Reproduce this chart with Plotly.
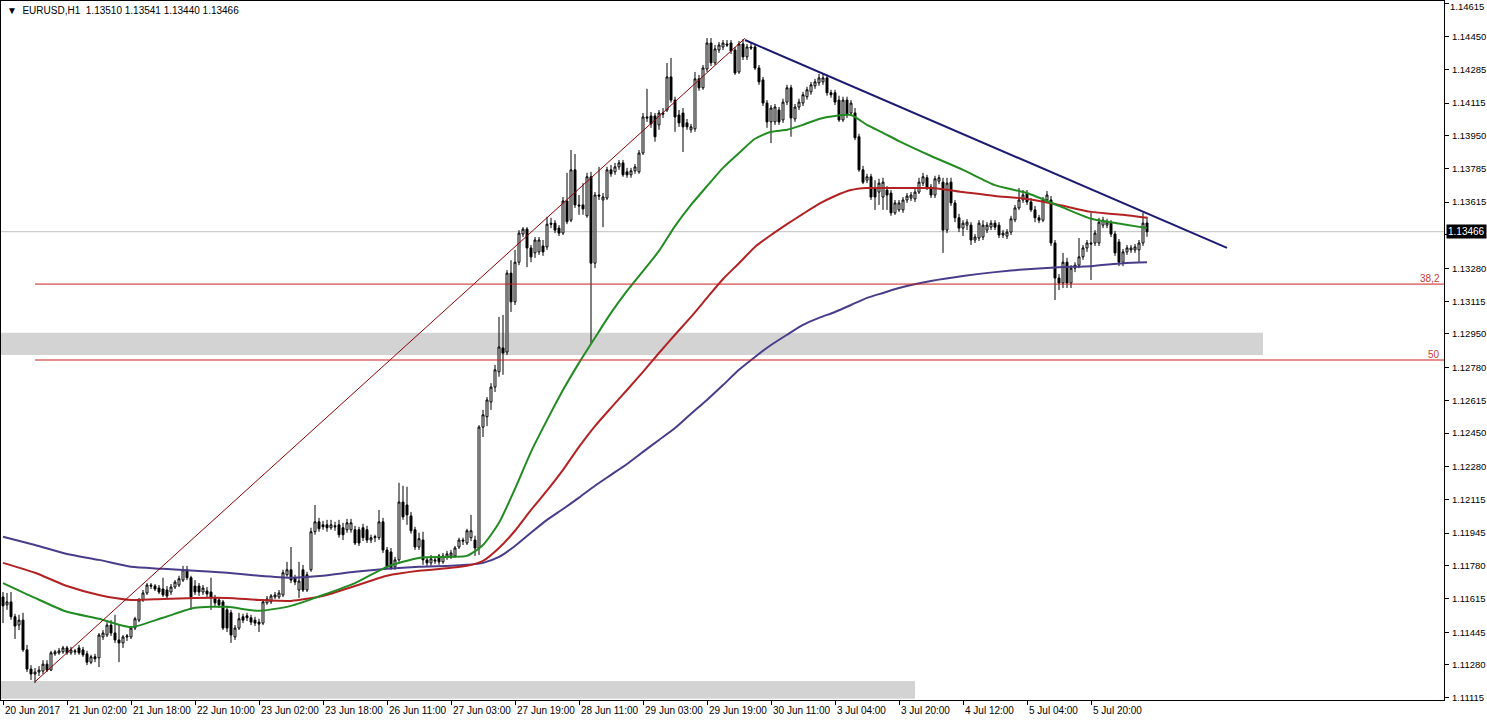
import plotly.graph_objects as go

# ---------------- data (EURUSD, H1) ----------------
opens = [
1.11623,1.11583,1.11598,1.11523,1.11481,1.11506,1.11356,1.11259,1.11234,1.11244,
1.11249,1.11284,1.11254,1.11336,1.11341,1.11346,1.11366,1.11341,1.11351,1.11366,
1.11356,1.11336,1.11294,1.11321,1.11316,1.11421,1.11431,1.11481,1.11441,1.11406,
1.11391,1.11421,1.11421,1.11466,1.11506,1.11608,1.11643,1.11683,1.11678,1.11668,
1.11663,1.11658,1.11648,1.11673,1.11683,1.11708,1.11760,1.11720,1.11678,1.11678,
1.11648,1.11653,1.11648,1.11618,1.11608,1.11598,1.11558,1.11543,1.11421,1.11466,
1.11523,1.11528,1.11518,1.11506,1.11496,1.11491,1.11593,1.11598,1.11623,1.11623,
1.11633,1.11735,1.11760,1.11720,1.11658,1.11760,1.11658,1.11760,1.11952,1.12002,
1.11987,1.11987,1.11972,1.11982,1.11987,1.11972,1.11962,1.11962,1.11962,1.11962,
1.11972,1.11962,1.11910,1.11922,1.11922,1.12002,1.11860,1.11850,1.11775,1.11810,
1.12102,1.12087,1.12032,1.11962,1.11875,1.11910,1.11810,1.11795,1.11810,1.11830,
1.11800,1.11825,1.11830,1.11830,1.11875,1.11910,1.11895,1.11922,1.11910,1.11870,
1.12480,1.12532,1.12607,1.12682,1.12759,1.12879,1.12859,1.13257,1.13112,1.13312,
1.13454,1.13479,1.13384,1.13359,1.13364,1.13394,1.13389,1.13509,1.13509,1.13484,
1.13459,1.13621,1.13524,1.13778,1.13601,1.13601,1.13546,1.13743,1.13307,1.13651,
1.13626,1.13636,1.13778,1.13768,1.13793,1.13813,1.13768,1.13753,1.13773,1.13768,
1.13863,1.14045,1.14050,1.14050,1.14005,1.14065,1.14080,1.14247,1.14130,1.14055,
1.14065,1.14015,1.13980,1.13985,1.14237,1.14192,1.14287,1.14418,1.14318,1.14383,
1.14398,1.14413,1.14418,1.14383,1.14272,1.14413,1.14348,1.14398,1.14398,1.14292,
1.14232,1.14115,1.14020,1.14020,1.14080,1.14030,1.14120,1.14192,1.14035,1.14095,
1.14115,1.14147,1.14172,1.14202,1.14217,1.14222,1.14242,1.14167,1.14167,1.14130,
1.14030,1.14130,1.14065,1.14065,1.13945,1.13778,1.13726,1.13743,1.13686,1.13666,
1.13641,1.13676,1.13661,1.13561,1.13576,1.13576,1.13626,1.13636,1.13631,1.13666,
1.13711,1.13738,1.13691,1.13651,1.13721,1.13716,1.13474,1.13716,1.13611,1.13536,
1.13484,1.13499,1.13499,1.13424,1.13434,1.13439,1.13474,1.13489,1.13509,1.13499,
1.13449,1.13444,1.13464,1.13526,1.13586,1.13626,1.13661,1.13616,1.13576,1.13536,
1.13524,1.13626,1.13626,1.13409,1.13232,1.13207,1.13312,1.13207,1.13282,1.13297,
1.13339,1.13384,1.13409,1.13409,1.13409,1.13499,1.13499,1.13509,1.13454,1.13414,
1.13312,1.13364,1.13374,1.13374,1.13374,1.13409,1.13510]

highs = [
1.11648,1.11643,1.11648,1.11538,1.11533,1.11543,1.11381,1.11279,1.11264,1.11274,
1.11304,1.11304,1.11351,1.11356,1.11366,1.11376,1.11376,1.11371,1.11361,1.11381,
1.11371,1.11351,1.11331,1.11336,1.11441,1.11456,1.11496,1.11506,1.11533,1.11481,
1.11431,1.11436,1.11476,1.11523,1.11618,1.11658,1.11693,1.11693,1.11688,1.11683,
1.11720,1.11678,1.11688,1.11708,1.11730,1.11780,1.11780,1.11730,1.11708,1.11693,
1.11683,1.11673,1.11720,1.11633,1.11623,1.11608,1.11578,1.11558,1.11481,1.11543,
1.11538,1.11543,1.11533,1.11523,1.11513,1.11608,1.11628,1.11638,1.11648,1.11658,
1.11760,1.11800,1.11875,1.11735,1.11800,1.11785,1.11750,1.11972,1.12087,1.12022,
1.12007,1.12012,1.12012,1.12002,1.12012,1.11997,1.12017,1.12017,1.11982,1.11977,
1.11992,1.11982,1.11937,1.11937,1.12062,1.12022,1.11875,1.11870,1.11825,1.12199,
1.12184,1.12179,1.12052,1.11977,1.11947,1.11952,1.11825,1.11835,1.11830,1.11840,
1.11845,1.11855,1.11860,1.11880,1.11922,1.11922,1.11967,1.12037,1.11932,1.12490,
1.12567,1.12632,1.12702,1.12794,1.13036,1.13046,1.13272,1.13322,1.13374,1.13474,
1.13489,1.13489,1.13399,1.13439,1.13439,1.13424,1.13541,1.13536,1.13524,1.13499,
1.13641,1.13763,1.13878,1.13858,1.13651,1.13711,1.13763,1.13768,1.13666,1.13793,
1.13661,1.13793,1.13803,1.13813,1.13828,1.13828,1.13788,1.13788,1.13808,1.13878,
1.14065,1.14187,1.14070,1.14065,1.14080,1.14090,1.14317,1.14343,1.14147,1.14080,
1.14090,1.14035,1.14010,1.14272,1.14257,1.14307,1.14443,1.14443,1.14408,1.14423,
1.14433,1.14433,1.14433,1.14398,1.14428,1.14438,1.14413,1.14418,1.14413,1.14307,
1.14247,1.14130,1.14105,1.14110,1.14095,1.14137,1.14207,1.14207,1.14110,1.14137,
1.14172,1.14197,1.14222,1.14237,1.14262,1.14262,1.14257,1.14182,1.14182,1.14152,
1.14147,1.14147,1.14130,1.14090,1.13960,1.13798,1.13758,1.13758,1.13726,1.13733,
1.13738,1.13696,1.13676,1.13626,1.13626,1.13641,1.13661,1.13666,1.13681,1.13738,
1.13763,1.13753,1.13706,1.13748,1.13753,1.13738,1.13738,1.13738,1.13626,1.13556,
1.13524,1.13529,1.13514,1.13454,1.13524,1.13524,1.13514,1.13524,1.13524,1.13514,
1.13474,1.13479,1.13546,1.13601,1.13686,1.13676,1.13676,1.13636,1.13596,1.13551,
1.13641,1.13671,1.13646,1.13424,1.13252,1.13359,1.13334,1.13297,1.13312,1.13434,
1.13399,1.13424,1.13561,1.13474,1.13536,1.13541,1.13531,1.13524,1.13469,1.13429,
1.13379,1.13399,1.13399,1.13404,1.13424,1.13561,1.13541]

lows = [
1.11491,1.11558,1.11508,1.11411,1.11456,1.11346,1.11244,1.11204,1.11189,1.11224,
1.11234,1.11244,1.11249,1.11326,1.11331,1.11336,1.11331,1.11331,1.11331,1.11331,
1.11321,1.11279,1.11284,1.11294,1.11269,1.11406,1.11421,1.11426,1.11391,1.11294,
1.11366,1.11401,1.11411,1.11456,1.11496,1.11598,1.11633,1.11663,1.11653,1.11638,
1.11623,1.11613,1.11633,1.11663,1.11673,1.11698,1.11708,1.11558,1.11633,1.11628,
1.11633,1.11623,1.11558,1.11578,1.11568,1.11456,1.11446,1.11391,1.11406,1.11456,
1.11491,1.11501,1.11481,1.11476,1.11446,1.11481,1.11583,1.11588,1.11613,1.11613,
1.11623,1.11725,1.11693,1.11683,1.11618,1.11648,1.11648,1.11750,1.11937,1.11952,
1.11962,1.11952,1.11962,1.11957,1.11922,1.11910,1.11947,1.11947,1.11885,1.11880,
1.11905,1.11895,1.11895,1.11900,1.11910,1.11845,1.11765,1.11760,1.11760,1.11800,
1.12012,1.11987,1.11942,1.11860,1.11860,1.11785,1.11780,1.11780,1.11790,1.11785,
1.11790,1.11810,1.11815,1.11820,1.11865,1.11885,1.11885,1.11905,1.11830,1.11835,
1.12430,1.12485,1.12567,1.12657,1.12734,1.12744,1.12844,1.13061,1.13096,1.13297,
1.13439,1.13287,1.13312,1.13334,1.13349,1.13344,1.13374,1.13484,1.13459,1.13444,
1.13449,1.13504,1.13514,1.13586,1.13551,1.13551,1.13536,1.12904,1.13282,1.13626,
1.13489,1.13626,1.13743,1.13753,1.13778,1.13743,1.13738,1.13738,1.13758,1.13758,
1.13853,1.14020,1.13990,1.13920,1.13980,1.14040,1.14070,1.14117,1.13970,1.13995,
1.13868,1.13980,1.13965,1.13970,1.14177,1.14182,1.14272,1.14302,1.14307,1.14368,
1.14383,1.14398,1.14363,1.14257,1.14262,1.14332,1.14332,1.14383,1.14282,1.14207,
1.14100,1.13990,1.13913,1.14005,1.14005,1.14015,1.14105,1.13945,1.14020,1.14080,
1.14100,1.14132,1.14157,1.14187,1.14202,1.14207,1.14152,1.14142,1.14105,1.14020,
1.14020,1.14040,1.14050,1.13928,1.13768,1.13706,1.13711,1.13626,1.13576,1.13601,
1.13576,1.13576,1.13546,1.13551,1.13566,1.13561,1.13611,1.13621,1.13616,1.13656,
1.13696,1.13676,1.13636,1.13636,1.13706,1.13359,1.13459,1.13596,1.13514,1.13464,
1.13444,1.13474,1.13399,1.13409,1.13419,1.13424,1.13459,1.13474,1.13474,1.13434,
1.13434,1.13429,1.13449,1.13514,1.13576,1.13611,1.13601,1.13566,1.13514,1.13509,
1.13514,1.13611,1.13394,1.13121,1.13172,1.13182,1.13182,1.13182,1.13262,1.13282,
1.13324,1.13364,1.13222,1.13394,1.13394,1.13484,1.13484,1.13439,1.13344,1.13292,
1.13292,1.13349,1.13359,1.13359,1.13312,1.13394,1.13440]

closes = [
1.11578,1.11598,1.11523,1.11476,1.11506,1.11356,1.11259,1.11234,1.11244,1.11254,
1.11284,1.11254,1.11341,1.11346,1.11351,1.11366,1.11341,1.11356,1.11346,1.11341,
1.11331,1.11294,1.11321,1.11311,1.11431,1.11441,1.11481,1.11441,1.11406,1.11391,
1.11421,1.11426,1.11466,1.11513,1.11608,1.11643,1.11683,1.11678,1.11663,1.11648,
1.11633,1.11628,1.11673,1.11698,1.11715,1.11760,1.11720,1.11623,1.11648,1.11648,
1.11668,1.11638,1.11618,1.11593,1.11583,1.11466,1.11466,1.11431,1.11466,1.11513,
1.11506,1.11518,1.11496,1.11491,1.11486,1.11598,1.11613,1.11628,1.11633,1.11643,
1.11745,1.11760,1.11708,1.11698,1.11703,1.11658,1.11735,1.11952,1.12002,1.11967,
1.11977,1.11972,1.11987,1.11977,1.11937,1.11937,1.11997,1.11997,1.11895,1.11895,
1.11922,1.11910,1.11922,1.11927,1.12002,1.11860,1.11775,1.11770,1.11810,1.12102,
1.12027,1.12037,1.11957,1.11875,1.11917,1.11810,1.11795,1.11815,1.11805,1.11800,
1.11830,1.11840,1.11845,1.11870,1.11910,1.11905,1.11957,1.11957,1.11870,1.12480,
1.12542,1.12617,1.12682,1.12769,1.12884,1.12854,1.13257,1.13112,1.13312,1.13459,
1.13479,1.13384,1.13339,1.13424,1.13424,1.13364,1.13504,1.13504,1.13474,1.13459,
1.13621,1.13516,1.13778,1.13601,1.13596,1.13581,1.13743,1.13307,1.13651,1.13646,
1.13641,1.13778,1.13758,1.13793,1.13813,1.13753,1.13753,1.13773,1.13793,1.13863,
1.14045,1.14040,1.14010,1.13945,1.14065,1.14060,1.14247,1.14130,1.14045,1.14015,
1.13995,1.13995,1.13995,1.14237,1.14192,1.14292,1.14418,1.14318,1.14388,1.14408,
1.14418,1.14408,1.14378,1.14267,1.14413,1.14348,1.14398,1.14393,1.14292,1.14222,
1.14115,1.14020,1.14090,1.14095,1.14020,1.14120,1.14192,1.14040,1.14095,1.14120,
1.14157,1.14182,1.14207,1.14222,1.14242,1.14242,1.14167,1.14157,1.14120,1.14030,
1.14130,1.14055,1.14115,1.13940,1.13778,1.13716,1.13743,1.13641,1.13641,1.13711,
1.13716,1.13651,1.13561,1.13611,1.13611,1.13626,1.13646,1.13651,1.13666,1.13716,
1.13743,1.13691,1.13651,1.13733,1.13738,1.13474,1.13711,1.13611,1.13536,1.13484,
1.13509,1.13514,1.13424,1.13439,1.13509,1.13499,1.13499,1.13509,1.13489,1.13449,
1.13459,1.13464,1.13531,1.13586,1.13626,1.13651,1.13616,1.13576,1.13536,1.13524,
1.13626,1.13651,1.13409,1.13232,1.13207,1.13312,1.13207,1.13282,1.13297,1.13339,
1.13384,1.13409,1.13404,1.13459,1.13514,1.13524,1.13514,1.13454,1.13359,1.13312,
1.13364,1.13384,1.13384,1.13389,1.13409,1.13509,1.13466]

# moving averages (bar index -> value)
ma_idx = [0,8,16,24,32,40,48,56,64,72,80,88,96,104,
          112,116,120,124,128,132,136,140,144,148,152,156,160,164,168,172,176,180,
          184,188,192,196,200,204,208,212,216,220,
          224,232,240,248,256,264,272,280,286]
ma_green = [1.11693,1.11618,1.11548,1.11513,1.11471,1.11518,1.11568,1.11573,1.11553,1.11578,
            1.11633,1.11693,1.11775,1.11820,
            1.11825,1.11830,1.11885,1.11997,1.12169,1.12355,1.12515,1.12667,1.12804,1.12931,
            1.13056,1.13167,1.13267,1.13369,1.13494,1.13601,1.13696,1.13788,1.13863,1.13935,
            1.13970,1.13980,1.14005,1.14035,1.14050,1.14055,1.14005,1.13965,
            1.13923,1.13848,1.13778,1.13701,1.13661,1.13596,1.13531,1.13504,1.13484]
ma_red = [1.11795,1.11745,1.11678,1.11633,1.11608,1.11613,1.11618,1.11618,1.11608,1.11603,
          1.11628,1.11678,1.11730,1.11755,
          1.11770,1.11780,1.11805,1.11870,1.11957,1.12062,1.12159,1.12264,1.12380,1.12485,
          1.12577,1.12667,1.12759,1.12854,1.12946,1.13036,1.13132,1.13227,1.13307,1.13389,
          1.13449,1.13504,1.13556,1.13606,1.13646,1.13676,1.13686,1.13686,
          1.13686,1.13686,1.13666,1.13646,1.13631,1.13601,1.13566,1.13551,1.13536]
ma_blue = [1.11927,1.11885,1.11840,1.11810,1.11775,1.11765,1.11755,1.11745,1.11730,1.11720,
           1.11730,1.11750,1.11765,1.11775,
           1.11780,1.11785,1.11795,1.11825,1.11880,1.11947,1.12012,1.12067,1.12124,1.12184,
           1.12239,1.12294,1.12355,1.12415,1.12475,1.12547,1.12617,1.12692,1.12769,1.12834,
           1.12894,1.12946,1.12996,1.13031,1.13061,1.13096,1.13132,1.13157,
           1.13182,1.13217,1.13242,1.13262,1.13277,1.13287,1.13292,1.13307,1.13312]

# time axis labels (bar index -> text)
time_idx = [0,16,32,48,64,80,96,112,128,144,160,176,192,208,224,240,256,272]
time_text = ["20 Jun 2017","21 Jun 02:00","21 Jun 18:00","22 Jun 10:00","23 Jun 02:00",
             "23 Jun 18:00","26 Jun 11:00","27 Jun 03:00","27 Jun 19:00","28 Jun 11:00",
             "29 Jun 03:00","29 Jun 19:00","30 Jun 11:00","3 Jul 04:00","3 Jul 20:00",
             "4 Jul 12:00","5 Jul 04:00","5 Jul 20:00"]

# price axis ticks
price_ticks = [1.14615,1.14450,1.14285,1.14115,1.13950,1.13785,1.13615,1.13450,1.13280,
               1.13115,1.12950,1.12780,1.12615,1.12450,1.12280,1.12115,1.11945,1.11780,
               1.11615,1.11445,1.11280,1.11115]

# drawing objects
fib_idx = [8, 185.5]                 # swing low bar, swing high bar
fib_price = [1.11195, 1.14442]       # swing low, swing high
fib_levels = [38.2, 50.0]
fib_labels = ["38,2", "50"]
trend_idx = [185.5, 306]
trend_price = [1.14433, 1.13384]
zone_end_idx = [315, 228]
zone_low = [1.12844, 1.11109]
zone_high = [1.12956, 1.11199]

# ---------------- figure ----------------
n = len(closes)
x = list(range(n))
x_min, x_max = -0.5, 360.25
y_min, y_max = 1.11103, 1.14630
FONT = "Tahoma, Liberation Sans, Arial, sans-serif"
last = closes[-1]

fig = go.Figure()

fig.add_trace(go.Candlestick(
    x=x, open=opens, high=highs, low=lows, close=closes,
    increasing=dict(line=dict(color="black", width=1), fillcolor="white"),
    decreasing=dict(line=dict(color="black", width=1), fillcolor="black"),
    whiskerwidth=0, showlegend=False, hoverinfo="skip"))

for vals, col in [(ma_blue, "#483D8B"), (ma_red, "#B22222"), (ma_green, "#228B22")]:
    fig.add_trace(go.Scatter(x=ma_idx, y=vals, mode="lines",
                             line=dict(color=col, width=2, shape="spline", smoothing=0.6),
                             showlegend=False, hoverinfo="skip"))

shapes = []
for xe, lo, hi in zip(zone_end_idx, zone_low, zone_high):
    shapes.append(dict(type="rect", xref="x", yref="y", x0=x_min, x1=xe, y0=lo, y1=hi,
                       fillcolor="#D3D3D3", line=dict(width=0), layer="below"))
shapes.append(dict(type="line", xref="paper", yref="y", x0=0, x1=1,
                   y0=last, y1=last, line=dict(color="#C0C0C0", width=1),
                   layer="below"))
fib_lo, fib_hi = fib_price
shapes.append(dict(type="line", xref="x", yref="y", x0=fib_idx[0], y0=fib_lo,
                   x1=fib_idx[1], y1=fib_hi, line=dict(color="#8B0000", width=1)))
fib_vals = []
for lv in fib_levels:
    p = fib_hi - (fib_hi - fib_lo) * lv / 100.0
    fib_vals.append(p)
    shapes.append(dict(type="line", xref="x", yref="y", x0=fib_idx[0], x1=x_max,
                       y0=p, y1=p, line=dict(color="#CC1F1F", width=1)))
shapes.append(dict(type="line", xref="x", yref="y", x0=trend_idx[0], y0=trend_price[0],
                   x1=trend_idx[1], y1=trend_price[1],
                   line=dict(color="#1B1B72", width=2)))

annotations = []
for xi, t in zip(time_idx, time_text):
    annotations.append(dict(x=xi, y=0, xref="x", yref="paper", text=t, showarrow=False,
                            xanchor="left", yanchor="top", xshift=0, yshift=-3,
                            font=dict(family=FONT, size=10, color="black")))
for p, lab in zip(fib_vals, fib_labels):
    annotations.append(dict(x=1, y=p, xref="paper", yref="y", text=lab, showarrow=False,
                            xanchor="right", yanchor="bottom", xshift=-2, yshift=-2,
                            font=dict(family=FONT, size=10, color="#C0403A")))
header = "▼  EURUSD,H1  %.5f %.5f %.5f %.5f" % (opens[-1], highs[-1], lows[-1], last)
annotations.append(dict(x=0, y=1, xref="paper", yref="paper", text=header, showarrow=False,
                        xanchor="left", yanchor="top", xshift=4, yshift=-2,
                        font=dict(family=FONT, size=10, color="black")))
annotations.append(dict(x=1, y=last, xref="paper", yref="y", text="%.5f" % last,
                        showarrow=False, xanchor="left", yanchor="middle", xshift=2,
                        bgcolor="black", borderpad=1,
                        font=dict(family=FONT, size=10, color="white")))

# tick labels: the one under the current-price tag is covered by it (as in the
# terminal); the top-most one is kept inside the window like the terminal does
tick_text = []
for v in price_ticks:
    if abs(v - last) < 0.0003 or v == max(price_ticks):
        tick_text.append("")
    else:
        tick_text.append("%.5f" % v)
top_tick = max(price_ticks)
annotations.append(dict(x=1, y=top_tick, xref="paper", yref="y", text="%.5f" % top_tick,
                        showarrow=False, xanchor="left", yanchor="top", xshift=5,
                        yshift=4, borderpad=0,
                        font=dict(family=FONT, size=9.5, color="black")))

fig.update_layout(
    width=1487, height=721,
    margin=dict(l=1, r=43, t=1, b=21),
    paper_bgcolor="white", plot_bgcolor="white",
    showlegend=False, boxgap=0.3,
    shapes=shapes, annotations=annotations,
    xaxis=dict(range=[x_min, x_max], showgrid=False, zeroline=False, automargin=False,
               showline=True, mirror=True, linecolor="black", linewidth=1,
               ticks="outside", ticklen=4, tickcolor="black", tickvals=time_idx,
               showticklabels=False, rangeslider=dict(visible=False), fixedrange=True),
    yaxis=dict(range=[y_min, y_max], side="right", showgrid=False, zeroline=False,
               automargin=False,
               showline=True, mirror=True, linecolor="black", linewidth=1,
               ticks="outside", ticklen=4, tickcolor="black",
               tickvals=price_ticks, ticktext=tick_text, ticklabeloverflow="allow",
               ticklabelstandoff=1,
               tickfont=dict(family=FONT, size=9.5, color="black"), fixedrange=True),
)

fig.write_html("out.html", config={"displayModeBar": False},
               post_script="document.body.style.margin='0';document.body.style.overflow='hidden';")
